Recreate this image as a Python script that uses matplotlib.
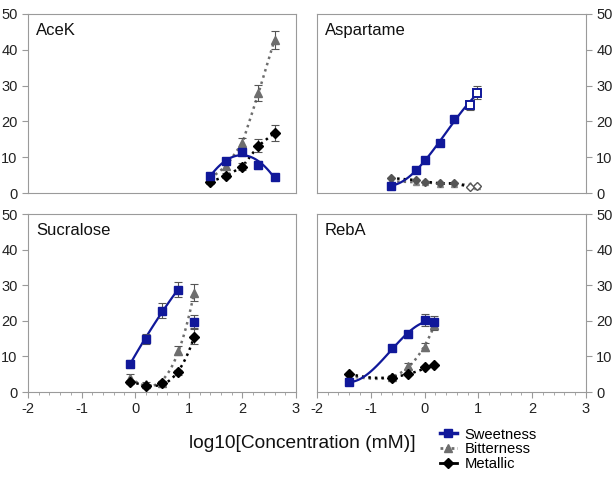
import numpy as np
import matplotlib
matplotlib.use("Agg")
import matplotlib.pyplot as plt
from matplotlib.ticker import MultipleLocator
from matplotlib.lines import Line2D

plt.rcParams["font.family"] = ["Liberation Sans", "DejaVu Sans"]
plt.rcParams["axes.unicode_minus"] = False

# =========================
# DATA
# =========================
acek_x = [1.4, 1.7, 2.0, 2.3, 2.6]
acek_sweet = [4.7, 8.9, 11.5, 7.9, 4.5]
acek_sweet_err = [0.8, 1.0, 1.2, 1.1, 0.6]
acek_bitter = [4.0, 7.6, 14.0, 27.9, 42.8]
acek_bitter_err = [0.8, 1.0, 1.5, 2.2, 2.5]
acek_metal = [3.1, 4.8, 7.4, 13.2, 16.8]
acek_metal_err = [0.6, 0.7, 1.1, 1.8, 2.3]

asp_x = [-0.63, -0.15, 0.01, 0.28, 0.54, 0.84, 0.97]
asp_sweet = [2.1, 6.4, 9.2, 13.9, 20.6, 24.5, 28.0]
asp_sweet_err = [0.5, 0.6, 0.7, 0.8, 1.0, 1.2, 1.8]
asp_bitter = [3.3, 3.0, 3.0, 2.6, 2.6, 2.3, 2.0]
asp_metal = [4.2, 3.6, 3.2, 2.7, 2.7, 1.8, 2.0]
asp_open_from = 5   # last two points drawn hollow

suc_x = [-0.1, 0.2, 0.5, 0.8, 1.1]
suc_sweet = [7.9, 14.9, 22.9, 28.7, 19.8]
suc_sweet_err = [1.1, 1.3, 2.0, 2.1, 1.8]
suc_bitter = [3.9, 2.2, 2.6, 11.6, 27.9]
suc_bitter_err = [1.2, 0.6, 0.6, 1.3, 2.4]
suc_metal = [2.8, 1.6, 2.6, 5.5, 15.6]
suc_metal_err = [0.6, 0.5, 0.5, 0.7, 2.2]

reba_x = [-1.4, -0.6, -0.3, 0.0, 0.18]
reba_sweet = [2.8, 12.3, 16.2, 20.2, 19.6]
reba_sweet_err = [0.5, 0.7, 1.0, 1.6, 1.8]
reba_bitter = [4.3, 4.2, 7.3, 12.7, 18.7]
reba_bitter_err = [0.5, 0.5, 0.8, 1.1, 1.4]
reba_metal = [5.2, 4.0, 5.1, 7.0, 7.6]

BLUE = "#10189a"
GRAY = "#6e6e6e"
BLACK = "#000000"
SPINE = "#9a9a9a"


def fit_line(ax, x, y, deg, **kw):
    """Draw a smooth polynomial fit through the points."""
    coef = np.polyfit(x, y, deg)
    xs = np.linspace(min(x), max(x), 100)
    ax.plot(xs, np.polyval(coef, xs), **kw)


def style(ax, title, right=False, xticks=False):
    ax.set_xlim(-2, 3)
    ax.set_ylim(0, 50)
    ax.yaxis.set_major_locator(MultipleLocator(10))
    for s in ax.spines.values():
        s.set_color(SPINE)
    ax.tick_params(colors=SPINE, labelcolor="#222222", labelsize=10.5,
                   length=4, width=0.8)
    if right:
        ax.yaxis.tick_right()
    if xticks:
        ax.xaxis.set_major_locator(MultipleLocator(1))
        ax.xaxis.set_minor_locator(MultipleLocator(0.2))
        ax.tick_params(axis="x", which="minor", colors=SPINE, length=2.5)
    else:
        ax.set_xticks([])
    ax.text(0.03, 0.95, title, transform=ax.transAxes, ha="left", va="top",
            fontsize=12, color="#111111")


ebar = dict(fmt="none", ecolor="#555555", elinewidth=0.8, capsize=3,
            capthick=0.8, zorder=2)
dot_gray = dict(color=GRAY, ls=(0, (1, 1.6)), lw=1.8, zorder=1)
dot_black = dict(color=BLACK, ls=(0, (1, 1.6)), lw=1.8, zorder=1)
sq = dict(marker="s", ms=6, color=BLUE, ls="none", zorder=4)
tri = dict(marker="^", ms=6, color=GRAY, ls="none", zorder=3)
dia = dict(marker="D", ms=5, color=BLACK, ls="none", zorder=3)

fig = plt.figure(figsize=(6.13, 4.79), dpi=100)
ax1 = fig.add_axes([0.0457, 0.597, 0.4372, 0.374])
ax2 = fig.add_axes([0.517, 0.597, 0.4388, 0.374])
ax3 = fig.add_axes([0.0457, 0.1816, 0.4372, 0.3714])
ax4 = fig.add_axes([0.517, 0.1816, 0.4388, 0.3714])

# AceK
ax1.plot(acek_x, acek_bitter, **dot_gray)
ax1.plot(acek_x, acek_metal, **dot_black)
fit_line(ax1, acek_x, acek_sweet, 2, color=BLUE, lw=1.6, zorder=2)
ax1.errorbar(acek_x, acek_bitter, yerr=acek_bitter_err, **ebar)
ax1.errorbar(acek_x, acek_metal, yerr=acek_metal_err, **ebar)
ax1.errorbar(acek_x, acek_sweet, yerr=acek_sweet_err, **ebar)
ax1.plot(acek_x, acek_bitter, **tri)
ax1.plot(acek_x, acek_metal, **dia)
ax1.plot(acek_x, acek_sweet, **sq)
style(ax1, "AceK")

# Aspartame
n = asp_open_from
ax2.plot(asp_x, asp_bitter, **dot_gray)
ax2.plot(asp_x, asp_metal, **dot_black)
fit_line(ax2, asp_x, asp_sweet, 3, color=BLUE, lw=1.6, zorder=2)
ax2.errorbar(asp_x, asp_sweet, yerr=asp_sweet_err, **ebar)
ax2.plot(asp_x[:n], asp_bitter[:n], **dict(tri, ms=5, color="#888888"))
ax2.plot(asp_x[:n], asp_metal[:n], **dict(dia, ms=4.5, color="#555555"))
ax2.plot(asp_x[n:], asp_bitter[n:], **dict(tri, ms=5, color="#888888", mfc="white"))
ax2.plot(asp_x[n:], asp_metal[n:], **dict(dia, ms=4.5, color="#555555", mfc="white"))
ax2.plot(asp_x[:n], asp_sweet[:n], **sq)
ax2.plot(asp_x[n:], asp_sweet[n:], **dict(sq, mfc="white", mew=1.4))
style(ax2, "Aspartame", right=True)

# Sucralose
fit_line(ax3, suc_x, suc_bitter, 3, **dot_gray)
fit_line(ax3, suc_x, suc_metal, 3, **dot_black)
fit_line(ax3, suc_x[:4], suc_sweet[:4], 2, color=BLUE, lw=1.6, zorder=2)
ax3.errorbar(suc_x, suc_bitter, yerr=suc_bitter_err, **ebar)
ax3.errorbar(suc_x, suc_metal, yerr=suc_metal_err, **ebar)
ax3.errorbar(suc_x, suc_sweet, yerr=suc_sweet_err, **ebar)
ax3.plot(suc_x, suc_bitter, **tri)
ax3.plot(suc_x, suc_metal, **dia)
ax3.plot(suc_x, suc_sweet, **sq)
style(ax3, "Sucralose", xticks=True)

# RebA
fit_line(ax4, reba_x, reba_bitter, 3, **dot_gray)
fit_line(ax4, reba_x, reba_metal, 2, **dot_black)
fit_line(ax4, reba_x, reba_sweet, 3, color=BLUE, lw=1.6, zorder=2)
ax4.errorbar(reba_x, reba_bitter, yerr=reba_bitter_err, **ebar)
ax4.errorbar(reba_x, reba_sweet, yerr=reba_sweet_err, **ebar)
ax4.plot(reba_x, reba_bitter, **tri)
ax4.plot(reba_x, reba_metal, **dia)
ax4.plot(reba_x, reba_sweet, **sq)
style(ax4, "RebA", right=True, xticks=True)

fig.text(0.493, 0.075, "log10[Concentration (mM)]", ha="center", va="center",
         fontsize=13.8, color="#111111")

handles = [
    Line2D([], [], color=BLUE, lw=2.5, marker="s", ms=6),
    Line2D([], [], color=GRAY, ls=(0, (1, 1)), lw=2, marker="^", ms=6),
    Line2D([], [], color=BLACK, lw=2, marker="D", ms=5),
]
fig.legend(handles, ["Sweetness", "Bitterness", "Metallic"],
           loc="center left", bbox_to_anchor=(0.705, 0.062), frameon=False,
           fontsize=10.6, handlelength=1.2, handletextpad=0.5,
           labelspacing=0.05, borderpad=0)

fig.savefig("out.png", dpi=100)
